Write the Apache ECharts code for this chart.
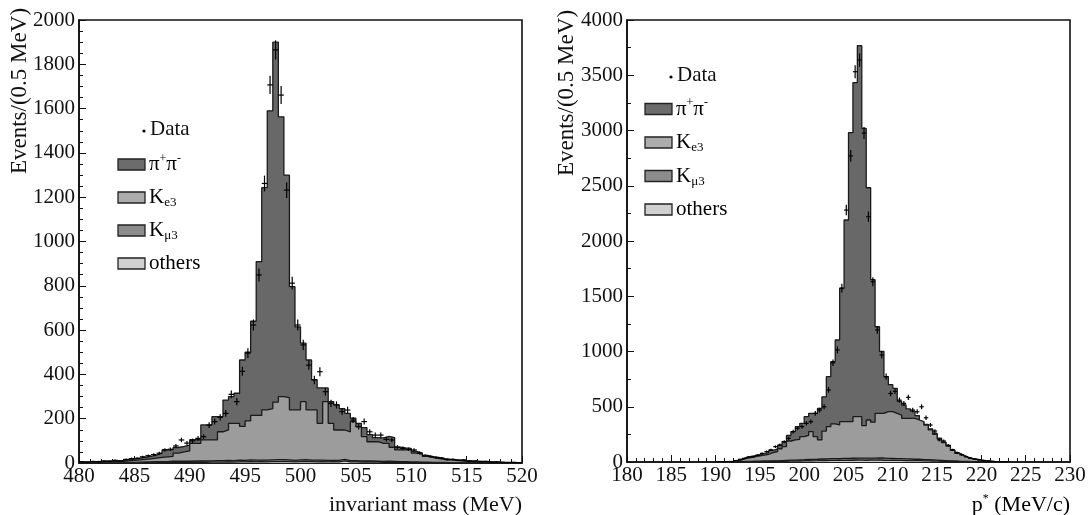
<!DOCTYPE html>
<html><head><meta charset="utf-8">
<script src="https://cdn.jsdelivr.net/npm/echarts@6/dist/echarts.min.js"></script>
<style>html,body{margin:0;padding:0;background:#fff}#c{width:1088px;height:515px}</style>
</head><body><div id="c"></div>
<script>
// ---------- DATA: left panel (invariant mass, 0.5 MeV bins from 480) ----------
const leftStart = 480;
const leftOthers = [0,0,0,0,1,1,1,1,1,1, 1,2,2,2,2,2,3,3,3,3, 3,4,3,4,4,4,5,4,5,5, 6,5,6,5,6,6,7,6,5,6, 7,6,5,6,5,6,5,10,5,5, 4,5,4,4,3,4,3,3,3,2, 2,2,2,1,1,1,1,1,1,1, 0,0,0,0,0,0,0,0,0,0];
const leftKmu3 = [1,1,1,1,1,1,2,2,2,2, 3,3,3,4,4,4,5,5,5,5, 6,6,6,6,7,7,7,7,8,7, 8,8,7,8,8,9,8,8,7,8, 8,7,8,7,7,6,7,6,6,6, 5,5,5,4,4,4,4,3,3,3, 3,2,2,2,2,2,1,1,1,1, 1,1,0,0,0,0,0,0,0,0];
const leftKe3 = [2,2,3,3,3,4,4,5,7,9, 10,11,14,16,19,22,22,37,42,47, 80,79,95,94,93,130,138,168,166,153, 176,202,202,227,231,260,285,281,228,226, 262,227,227,166,265,167,137,133,130,176, 155,109,87,88,82,81,64,53,53,54, 40,36,26,22,17,14,12,10,8,6, 5,4,4,3,3,2,2,1,1,1];
const leftPipi = [2,2,2,3,3,3,3,4,5,6, 8,10,11,14,20,31,29,25,25,26, 16,16,68,68,105,68,134,121,136,300, 310,425,694,1003,1345,1625,1263,1005,556,375, 264,225,136,160,62,98,113,96,83,16, 15,41,32,19,24,31,44,13,9,7, 8,5,4,4,5,3,3,3,3,3, 3,3,3,3,2,2,1,2,1,1];
const leftData = [6,4,7,5,9,8,12,10,16,20, 21,28,33,38,44,59,62,77,104,90, 100,111,119,171,187,206,224,310,277,414, 496,623,849,1262,1707,1865,1661,1232,812,623, 533,442,375,412,322,269,262,232,239,194, 164,187,141,126,126,107,104,72,66,62, 59,45,34,29,24,22,15,16,12,14, 8,9,6,7,4,5,3,2,3,1];

// ---------- DATA: right panel (p*, 0.5 MeV bins from 190) ----------
const rightStart = 190;
const rightOthers = [0,0,0,0,1,1,2,2,3,3, 4,4,5,5,6,7,8,8,9,10, 12,11,12,14,13,15,14,16,15,17, 16,18,17,16,18,17,20,16,15,17, 14,15,13,14,12,12,10,10,9,8, 7,6,5,4,3,3,2,2,1,1, 1,0,0,0,0,0];
const rightKmu3 = [0,1,1,1,2,2,3,3,4,4, 5,5,6,6,7,8,9,9,10,11, 12,12,13,14,14,15,16,15,17,16, 18,17,18,19,17,18,16,20,17,16, 17,15,15,14,13,13,12,11,10,9, 8,7,6,5,4,3,3,2,2,1, 1,1,0,0,0,0];
const rightKe3 = [1,1,2,4,7,17,28,35,41,48, 53,61,74,84,107,125,173,183,186,208, 216,252,205,172,253,290,315,304,333,332, 331,375,375,295,345,325,404,404,423,422, 409,395,367,367,370,355,343,314,271,233, 195,162,134,96,71,54,37,26,20,14, 8,6,4,2,1,1];
const rightPipi = [0,0,0,1,2,5,9,10,10,11, 13,15,20,23,30,45,50,75,115,121, 170,165,210,285,310,452,563,769,1208,1825, 2615,3023,3358,2690,2102,1290,784,560,317,245, 227,125,121,85,65,40,0,5,10,10, 5,5,5,4,2,3,3,3,2,2, 2,1,1,1,1,0];
const rightData = [1,2,3,5,13,24,33,45,48,62, 78,94,110,139,154,184,214,275,305,320, 350,365,440,470,500,652,898,1014,1573,2280, 2770,3532,3638,2977,2220,1632,1195,968,772,620, 640,560,530,585,470,455,500,400,335,280, 200,190,150,110,85,65,48,33,25,18, 12,9,5,3,2,1];

// ---------- axis settings ----------
const leftX = {min:480, max:520, interval:5};
const leftY = {min:0, max:2000, interval:200, minor:4};
const rightX = {min:180, max:230, interval:5};
const rightY = {min:0, max:4000, interval:500, minor:2};
const leftXTitle = 'invariant mass (MeV)';
const yTitle = 'Events/(0.5 MeV)';
const BIN = 0.5;

const FONT = "'Liberation Serif','DejaVu Serif',serif";
const COL = {others:'#c9c9c9', kmu3:'#878787', ke3:'#9c9c9c', pipi:'#686868'};
const LEG = {others:'#d0d0d0', kmu3:'#8c8c8c', ke3:'#acacac', pipi:'#6c6c6c'};

function binEdges(start, n){ const a=[]; for(let i=0;i<n;i++) a.push(start + BIN*i); return a; }
// cumulative stack tops (built from the component arrays)
function cumulate(layers){
  const out=[]; let run = layers[0].map(()=>0);
  layers.forEach(l=>{ run = run.map((v,i)=>v + l[i]); out.push(run.slice()); });
  return out;
}
function stepData(ed, vals){
  const d = ed.map((x,i)=>[x, vals[i]]);
  d.push([ed[ed.length-1]+BIN, 0]);
  return d;
}
function layer(name, ed, vals, color, gi, z){
  return {type:'line', name, xAxisIndex:gi, yAxisIndex:gi, data:stepData(ed, vals),
    step:'end', symbol:'none', showSymbol:false, silent:true, connectNulls:true,
    lineStyle:{color:'#1a1a1a', width:1.3}, areaStyle:{color, opacity:1, origin:'start'}, itemStyle:{color}, z:z};
}
function crossData(ed, vals){
  const d=[]; ed.forEach((x,i)=>{ const v=vals[i]; if(v>0) d.push([x+BIN/2, v, Math.sqrt(v), BIN/2]); });
  return d;
}
function crossItem(params, api){
  const x=api.value(0), y=api.value(1), e=api.value(2), h=api.value(3);
  const a=api.coord([x-h,y]), b=api.coord([x+h,y]), t=api.coord([x,y+e]), u=api.coord([x,y-e]);
  const st={stroke:'#000', lineWidth:1.2};
  return {type:'group', children:[
    {type:'line', shape:{x1:a[0],y1:a[1],x2:b[0],y2:b[1]}, style:st},
    {type:'line', shape:{x1:t[0],y1:t[1],x2:u[0],y2:u[1]}, style:st}
  ]};
}
function crosses(ed, vals, gi){
  return {type:'custom', name:'Data', xAxisIndex:gi, yAxisIndex:gi, data:crossData(ed, vals),
    encode:{x:0,y:1}, renderItem:crossItem, z:10, clip:true, silent:true};
}
const axLine = {show:true, lineStyle:{color:'#111', width:1.6}};
function xAx(gi, s){
  return {type:'value', gridIndex:gi, min:s.min, max:s.max, interval:s.interval,
    axisLine:axLine, axisTick:{inside:true, length:7, lineStyle:{color:'#111', width:1}},
    minorTick:{show:true, splitNumber:5, length:4, lineStyle:{color:'#111', width:1}},
    splitLine:{show:false}, minorSplitLine:{show:false},
    axisLabel:{fontFamily:FONT, fontSize:21, color:'#111', margin:3, formatter:v=>String(v)}};
}
function yAx(gi, s){
  return {type:'value', gridIndex:gi, min:s.min, max:s.max, interval:s.interval,
    axisLine:axLine, axisTick:{inside:true, length:7, lineStyle:{color:'#111', width:1}},
    minorTick:{show:true, splitNumber:s.minor, length:4, lineStyle:{color:'#111', width:1}},
    splitLine:{show:false}, minorSplitLine:{show:false},
    axisLabel:{fontFamily:FONT, fontSize:21, color:'#111', margin:4, formatter:v=>String(v)}};
}

const le = binEdges(leftStart, leftData.length);
const re = binEdges(rightStart, rightData.length);
const lc = cumulate([leftOthers, leftKmu3, leftKe3, leftPipi]);
const rc = cumulate([rightOthers, rightKmu3, rightKe3, rightPipi]);

const rich = {
  a:{fontFamily:FONT, fontSize:21, color:'#111', lineHeight:24},
  sup:{fontFamily:FONT, fontSize:12, color:'#111', verticalAlign:'top', lineHeight:24},
  sub:{fontFamily:FONT, fontSize:13, color:'#111', verticalAlign:'bottom', lineHeight:20}
};
const legendItems = [
  {key:'pipi', text:'{a|π}{sup|+}{a|π}{sup|-}'},
  {key:'ke3', text:'{a|K}{sub|e3}'},
  {key:'kmu3', text:'{a|K}{sub|μ3}'},
  {key:'others', text:'{a|others}'}
];
function legend(boxX, dataY, firstY, gap){
  const els = [];
  els.push({type:'circle', shape:{cx:boxX+26, cy:dataY+2, r:1.6}, style:{fill:'#000'}});
  els.push({type:'text', x:boxX+32, y:dataY, style:{text:'Data', font:'21px '+FONT, fill:'#111', align:'left', verticalAlign:'middle', textAlign:'left', textVerticalAlign:'middle'}});
  legendItems.forEach((it,i)=>{
    const cy = firstY + gap*i;
    els.push({type:'rect', shape:{x:boxX, y:cy-5.5, width:27, height:11}, style:{fill:LEG[it.key], stroke:'#222', lineWidth:1.3}});
    els.push({type:'text', x:boxX+31, y:cy, style:{text:it.text, rich, align:'left', verticalAlign:'middle', textAlign:'left', textVerticalAlign:'middle'}});
  });
  return els;
}

const graphics = [].concat(
  legend(118, 129, 164.5, 33),
  legend(645, 75, 109, 33.5),
  [
    {type:'text', x:20, y:91, rotation:Math.PI/2, style:{text:yTitle, font:'23px '+FONT, fill:'#111', align:'center', verticalAlign:'middle', textAlign:'center', textVerticalAlign:'middle'}},
    {type:'text', x:567, y:93, rotation:Math.PI/2, style:{text:yTitle, font:'23px '+FONT, fill:'#111', align:'center', verticalAlign:'middle', textAlign:'center', textVerticalAlign:'middle'}},
    {type:'text', x:522, y:505, style:{text:leftXTitle, font:'22px '+FONT, fill:'#111', align:'right', verticalAlign:'middle', textAlign:'right', textVerticalAlign:'middle'}},
    {type:'text', x:1070, y:505, style:{text:'{a|p}{sup|*}{a| (MeV/c)}', rich:{a:{fontFamily:FONT, fontSize:22, color:'#111', lineHeight:24}, sup:{fontFamily:FONT, fontSize:12, color:'#111', verticalAlign:'top', lineHeight:24}}, align:'right', verticalAlign:'middle', textAlign:'right', textVerticalAlign:'middle'}}
  ]
);

const chart = echarts.init(document.getElementById('c'), null, {renderer:'canvas'});
chart.setOption({
  animation:false,
  backgroundColor:'#fff',
  grid:[
    {left:79, top:20, width:443, height:443, show:true, borderColor:'#111', borderWidth:1.6, backgroundColor:'transparent', outerBoundsMode:'none', containLabel:false},
    {left:627, top:20, width:443, height:442, show:true, borderColor:'#111', borderWidth:1.6, backgroundColor:'transparent', outerBoundsMode:'none', containLabel:false}
  ],
  xAxis:[xAx(0, leftX), xAx(1, rightX)],
  yAxis:[yAx(0, leftY), yAx(1, rightY)],
  series:[
    layer('pipi', le, lc[3], COL.pipi, 0, 2),
    layer('Ke3', le, lc[2], COL.ke3, 0, 3),
    layer('Kmu3', le, lc[1], COL.kmu3, 0, 4),
    layer('others', le, lc[0], COL.others, 0, 5),
    crosses(le, leftData, 0),
    layer('pipi', re, rc[3], COL.pipi, 1, 2),
    layer('Ke3', re, rc[2], COL.ke3, 1, 3),
    layer('Kmu3', re, rc[1], COL.kmu3, 1, 4),
    layer('others', re, rc[0], COL.others, 1, 5),
    crosses(re, rightData, 1)
  ],
  graphic:{elements:graphics}
});
</script></body></html>
